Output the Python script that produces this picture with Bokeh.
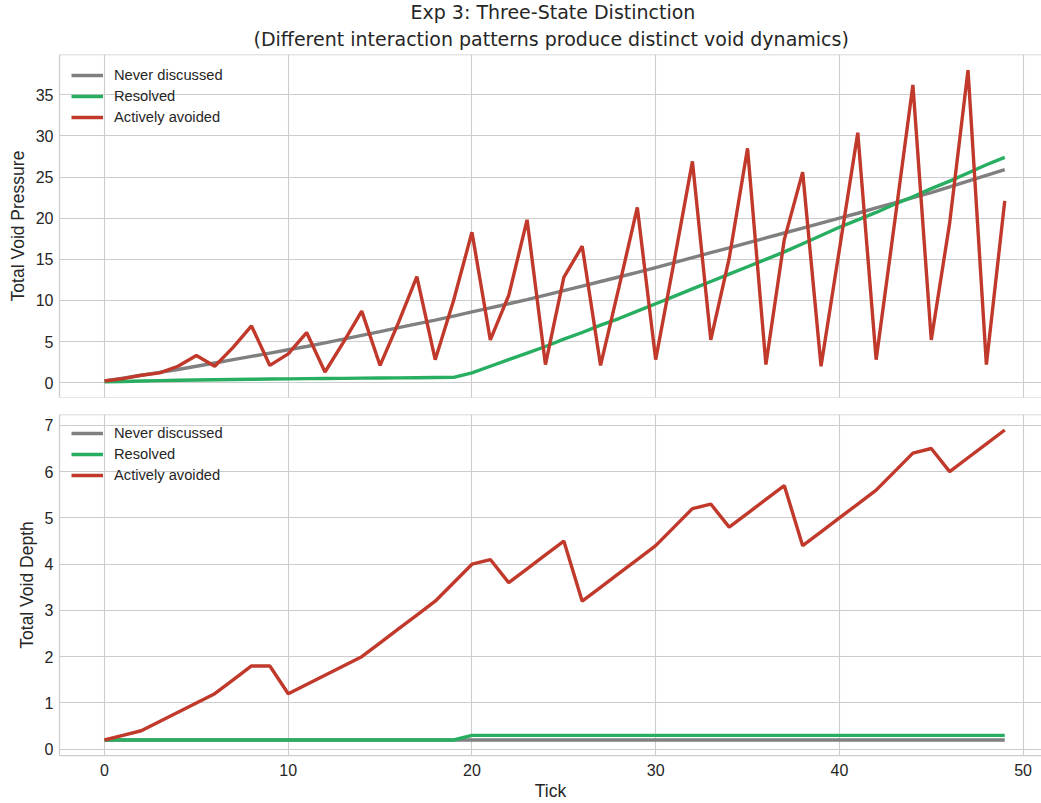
from bokeh.plotting import figure
from bokeh.layouts import column
from bokeh.models import Range1d, FixedTicker, Span, Title
from bokeh.embed import file_html
from bokeh.resources import INLINE

# ---- data -------------------------------------------------------------
ticks = list(range(50))

pressure_never = [0.2, 0.55, 0.9, 1.25, 1.6, 2.0, 2.4, 2.8, 3.2, 3.6,
                  4.0, 4.4, 4.85, 5.3, 5.75, 6.2, 6.7, 7.15, 7.6, 8.1,
                  8.6, 9.1, 9.6, 10.1, 10.65, 11.2, 11.75, 12.3, 12.85, 13.4,
                  14.0, 14.6, 15.2, 15.8, 16.4, 17.0, 17.6, 18.2, 18.8, 19.4,
                  20.0, 20.6, 21.25, 21.85, 22.5, 23.1, 23.8, 24.5, 25.2, 25.9]

pressure_resolved = [0.1, 0.15, 0.2, 0.25, 0.3, 0.33, 0.36, 0.39, 0.42, 0.45,
                     0.47, 0.49, 0.51, 0.53, 0.55, 0.57, 0.59, 0.61, 0.63, 0.65,
                     1.2, 2.0, 2.8, 3.6, 4.4, 5.3, 6.1, 7.0, 7.8, 8.7,
                     9.6, 10.5, 11.4, 12.3, 13.2, 14.1, 15.0, 15.9, 16.9, 17.9,
                     18.9, 19.8, 20.7, 21.7, 22.6, 23.6, 24.5, 25.5, 26.5, 27.4]

pressure_avoided = [0.2, 0.5, 0.9, 1.2, 2.0, 3.3, 2.0, 4.3, 6.9, 2.1,
                    3.5, 6.1, 1.3, 4.9, 8.7, 2.1, 7.3, 12.9, 2.8, 10.0,
                    18.3, 5.2, 10.6, 19.8, 2.2, 12.8, 16.6, 2.1, 11.6, 21.3,
                    2.8, 14.7, 26.9, 5.2, 15.1, 28.5, 2.2, 17.4, 25.6, 2.0,
                    16.2, 30.4, 2.8, 19.4, 36.2, 5.2, 19.4, 38.0, 2.2, 22.1]

depth_never = [0.2] * 50

depth_resolved = [0.2] * 20 + [0.3] * 30

depth_avoided = [0.2, 0.3, 0.4, 0.6, 0.8, 1.0, 1.2, 1.5, 1.8, 1.8,
                 1.2, 1.4, 1.6, 1.8, 2.0, 2.3, 2.6, 2.9, 3.2, 3.6,
                 4.0, 4.1, 3.6, 3.9, 4.2, 4.5, 3.2, 3.5, 3.8, 4.1,
                 4.4, 4.8, 5.2, 5.3, 4.8, 5.1, 5.4, 5.7, 4.4, 4.7,
                 5.0, 5.3, 5.6, 6.0, 6.4, 6.5, 6.0, 6.3, 6.6, 6.9]

series_labels = ["Never discussed", "Resolved", "Actively avoided"]
series_colors = ["#808080", "#27ae60", "#c0392b"]

x_ticks = [0, 10, 20, 30, 40, 50]
pressure_ticks = [0, 5, 10, 15, 20, 25, 30, 35]
depth_ticks = [0, 1, 2, 3, 4, 5, 6, 7]

title_line1 = "Exp 3: Three-State Distinction"
title_line2 = "(Different interaction patterns produce distinct void dynamics)"

# ---- styling ----------------------------------------------------------
FONT = "Liberation Sans"
TITLE_FONT = "DejaVu Sans"
TEXT = "#262626"
GRID = "#cccccc"

x_range = Range1d(-2.45, 51.0)


def style(p, y_ticks, y_label):
    p.outline_line_color = None
    p.background_fill_color = "white"
    p.border_fill_color = "white"
    p.xgrid.ticker = FixedTicker(ticks=x_ticks)
    p.ygrid.ticker = FixedTicker(ticks=y_ticks)
    for g in (p.xgrid, p.ygrid):
        g.grid_line_color = GRID
        g.grid_line_width = 1.1
    ax = p.yaxis[0]
    ax.ticker = FixedTicker(ticks=y_ticks)
    ax.axis_line_color = GRID
    ax.axis_line_width = 1.25
    ax.major_tick_line_color = None
    ax.minor_tick_line_color = None
    ax.major_tick_in = 0
    ax.major_tick_out = 0
    ax.major_label_standoff = 6
    ax.major_label_text_font = FONT
    ax.major_label_text_font_size = "16px"
    ax.major_label_text_color = TEXT
    ax.axis_label = y_label
    ax.axis_label_text_font = FONT
    ax.axis_label_text_font_size = "17.5px"
    ax.axis_label_text_font_style = "normal"
    ax.axis_label_text_color = TEXT
    ax.axis_label_standoff = 5


def add_lines(p, ys):
    for y, lab, col in zip(ys, series_labels, series_colors):
        p.line(ticks, y, line_color=col, line_width=3.4, legend_label=lab)
    lg = p.legend[0]
    lg.location = (4, 262)
    lg.margin = 0
    lg.padding = 8
    lg.spacing = 0
    lg.glyph_width = 32
    lg.glyph_height = 20
    lg.label_height = 21
    lg.label_standoff = 11
    lg.label_text_font = FONT
    lg.label_text_font_size = "14.7px"
    lg.label_text_color = TEXT
    lg.background_fill_alpha = 0
    lg.border_line_alpha = 0


# ---- upper panel: total void pressure ---------------------------------
p1 = figure(width=1041, height=406, x_range=x_range, y_range=Range1d(-1.8, 39.9),
            output_backend="svg", toolbar_location=None,
            min_border_left=59, min_border_right=0, min_border_top=54, min_border_bottom=9)
style(p1, pressure_ticks, "Total Void Pressure")
p1.xaxis.visible = False
p1.add_layout(Span(location=39.9, dimension="width", line_color=GRID, line_width=1.25))
p1.add_layout(Span(location=-1.8, dimension="width", line_color=GRID, line_width=1.25))
add_lines(p1, [pressure_never, pressure_resolved, pressure_avoided])
p1.add_layout(Title(text=title_line2, align="left", offset=194, vertical_align="top",
                    text_font=TITLE_FONT, text_font_size="19px", text_font_style="normal",
                    text_color=TEXT, standoff=6), "above")
p1.add_layout(Title(text=title_line1, align="left", offset=351, vertical_align="top",
                    text_font=TITLE_FONT, text_font_size="19px", text_font_style="normal",
                    text_color=TEXT, standoff=0), "above")

# ---- lower panel: total void depth ------------------------------------
p2 = figure(width=1041, height=397, x_range=x_range, y_range=Range1d(-0.135, 7.235),
            output_backend="svg", toolbar_location=None,
            min_border_left=59, min_border_right=0, min_border_top=8, min_border_bottom=46)
style(p2, depth_ticks, "Total Void Depth")
xa = p2.xaxis[0]
xa.ticker = FixedTicker(ticks=x_ticks)
xa.axis_line_color = GRID
xa.axis_line_width = 1.25
xa.major_tick_line_color = None
xa.minor_tick_line_color = None
xa.major_tick_in = 0
xa.major_tick_out = 0
xa.major_label_standoff = 8
xa.major_label_text_font = FONT
xa.major_label_text_font_size = "16px"
xa.major_label_text_color = TEXT
xa.axis_label = "Tick"
xa.axis_label_text_font = FONT
xa.axis_label_text_font_size = "17.5px"
xa.axis_label_text_font_style = "normal"
xa.axis_label_text_color = TEXT
xa.axis_label_standoff = 2
p2.add_layout(Span(location=7.235, dimension="width", line_color=GRID, line_width=1.25))
add_lines(p2, [depth_never, depth_resolved, depth_avoided])

layout = column(p1, p2, spacing=0)

with open("out.html", "w") as f:
    f.write(file_html(layout, INLINE))
